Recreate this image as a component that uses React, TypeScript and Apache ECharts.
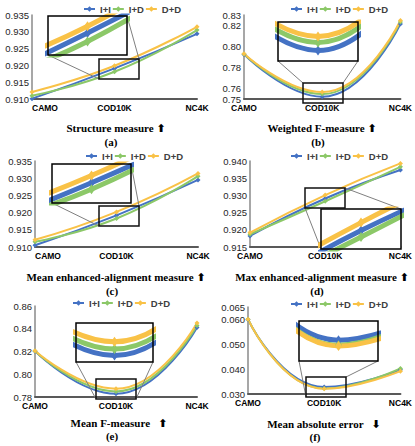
import React, { useEffect, useRef } from 'react';
import * as echarts from 'echarts';

const categories = ['CAMO', 'COD10K', 'NC4K'];
const seriesNames = ['I+I', 'I+D', 'D+D'];

// (a) Structure measure
const smII = [0.9101, 0.9191, 0.9294];
const smID = [0.911, 0.9181, 0.9305];
const smDD = [0.9121, 0.9199, 0.9315];
// (b) Weighted F-measure
const wfII = [0.7925, 0.7522, 0.8215];
const wfID = [0.7928, 0.7547, 0.8234];
const wfDD = [0.7932, 0.7566, 0.8247];
// (c) Mean enhanced-alignment measure
const meII = [0.9105, 0.9192, 0.9295];
const meID = [0.9115, 0.9183, 0.9306];
const meDD = [0.9121, 0.9202, 0.9314];
// (d) Max enhanced-alignment measure
const xeII = [0.9182, 0.9291, 0.9374];
const xeID = [0.9187, 0.9283, 0.9383];
const xeDD = [0.9192, 0.9301, 0.9393];
// (e) Mean F-measure
const mfII = [0.8203, 0.7828, 0.8411];
const mfID = [0.8205, 0.7849, 0.8428];
const mfDD = [0.8207, 0.7873, 0.8451];
// (f) Mean absolute error
const maeII = [0.06, 0.0328, 0.0398];
const maeID = [0.0601, 0.0322, 0.0403];
const maeDD = [0.0601, 0.0321, 0.0392];

// y tick labels shown
const wfTicks = ['0.75', '0.76', '0.78', '0.80', '0.82', '0.83'];
const maeTicks = ['0.030', '0.040', '0.050', '0.060', '0.065'];

const titles = [
  'Structure measure \u2B06',
  'Weighted F-measure \u2B06',
  'Mean enhanced-alignment measure \u2B06',
  'Max enhanced-alignment measure \u2B06',
  'Mean F-measure   \u2B06',
  'Mean absolute error   \u2B07',
];
const subLabels = ['(a)', '(b)', '(c)', '(d)', '(e)', '(f)'];

const colors = ['#4472C4', '#8CC868', '#F9C247'];
const sans = "'Liberation Sans', Arial, sans-serif";
const narrow = "'Liberation Sans Narrow', 'Liberation Sans', Arial, sans-serif";
const serif = "'Liberation Serif', 'Times New Roman', 'DejaVu Sans', serif";

const panels = [
  {
    values: [smII, smID, smDD], min: 0.91, max: 0.935, interval: 0.005, dec: 3, ticks: null, alignMin: true,
    grid: [32, 15, 165, 84], inset: [48, 16, 79, 39], insetX: [0.76, 1.24], insetY: [0.9165, 0.9211],
    rect: [99, 59, 40, 20], conn: [[48, 55, 99, 79], [127, 16, 139, 59]],
    legend: [83, 4], title: [116, 128], sub: [111, 142],
  },
  {
    values: [wfII, wfID, wfDD], min: 0.75, max: 0.83, interval: 0.01, dec: 2, ticks: wfTicks, alignMin: false,
    grid: [244, 15, 158, 84], inset: [278, 22, 80, 39], insetX: [0.743, 1.257], insetY: [0.7489, 0.7611],
    rect: [303, 83, 40, 20], conn: [[278, 61, 303, 83], [358, 61, 343, 83]],
    legend: [290, 4], title: [322, 128], sub: [318, 142],
  },
  {
    values: [meII, meID, meDD], min: 0.91, max: 0.935, interval: 0.005, dec: 3, ticks: null, alignMin: true,
    grid: [35, 161, 163, 86], inset: [52, 164, 79, 39], insetX: [0.755, 1.245], insetY: [0.9164, 0.9218],
    rect: [99, 206, 40, 20], conn: [[52, 203, 99, 226], [131, 164, 139, 206]],
    legend: [85, 151], title: [116, 277], sub: [112, 291],
  },
  {
    values: [xeII, xeID, xeDD], min: 0.915, max: 0.94, interval: 0.005, dec: 3, ticks: null, alignMin: false,
    grid: [250, 161, 153, 86], inset: [321, 209, 80, 40], insetX: [0.74, 1.26], insetY: [0.9268, 0.9318],
    rect: [305, 188, 40, 20], conn: [[345, 188, 401, 209], [305, 208, 321, 249]],
    legend: [290, 151], title: [322, 277], sub: [317, 291],
  },
  {
    values: [mfII, mfID, mfDD], min: 0.78, max: 0.86, interval: 0.02, dec: 2, ticks: null, alignMin: false,
    grid: [35, 306, 162, 91], inset: [76, 323, 77, 39], insetX: [0.753, 1.247], insetY: [0.7807, 0.7934],
    rect: [96, 379, 40, 20], conn: [[76, 362, 96, 399], [153, 362, 136, 399]],
    legend: [72, 298], title: [119, 423], sub: [112, 436],
  },
  {
    values: [maeII, maeID, maeDD], min: 0.03, max: 0.065, interval: 0.005, dec: 3, ticks: maeTicks, alignMin: false,
    grid: [248, 307, 155, 87], inset: [299, 321, 79, 40], insetX: [0.742, 1.258], insetY: [0.0303, 0.0351],
    rect: [306, 377, 40, 20], conn: [[299, 361, 306, 397], [378, 361, 346, 377]],
    legend: [290, 299], title: [324, 424], sub: [315, 437],
  },
];

function buildOption() {
  const grid: any[] = [];
  const xAxis: any[] = [];
  const yAxis: any[] = [];
  const series: any[] = [];
  const legend: any[] = [];
  const graphic: any[] = [];

  panels.forEach((p, i) => {
    const gi = i * 2;
    grid.push({ left: p.grid[0], top: p.grid[1], width: p.grid[2], height: p.grid[3] });
    grid.push({ left: p.inset[0], top: p.inset[1], width: p.inset[2], height: p.inset[3] });

    xAxis.push({
      type: 'category', gridIndex: gi, data: categories, boundaryGap: false,
      axisTick: { show: false },
      axisLine: { lineStyle: { color: '#595959', width: 2 } },
      axisLabel: {
        fontFamily: sans, fontWeight: 'bold', fontSize: 8.5, color: '#000', margin: 4,
        alignMinLabel: p.alignMin ? 'left' : 'center', interval: 0,
      },
    });
    xAxis.push({ type: 'value', gridIndex: gi + 1, min: p.insetX[0], max: p.insetX[1], show: false });

    const dec = p.dec;
    const ticks = p.ticks;
    yAxis.push({
      type: 'value', gridIndex: gi, min: p.min, max: p.max, interval: p.interval,
      splitLine: { show: false },
      axisTick: { show: false },
      axisLine: { show: true, lineStyle: { color: '#8a8a8a', width: 1.5 } },
      axisLabel: {
        fontFamily: narrow, fontSize: 9.5, color: '#262626', margin: 3,
        formatter: (v: number) => {
          const s = v.toFixed(dec);
          if (ticks && ticks.indexOf(s) < 0) return '';
          return s;
        },
      },
    });
    yAxis.push({ type: 'value', gridIndex: gi + 1, min: p.insetY[0], max: p.insetY[1], show: false });

    p.values.forEach((vals, k) => {
      series.push({
        type: 'line', name: seriesNames[k], xAxisIndex: gi, yAxisIndex: gi, data: vals,
        smooth: true, symbol: 'diamond', symbolSize: 5,
        lineStyle: { width: 2, color: colors[k] }, itemStyle: { color: colors[k] }, z: 2,
      });
    });
    p.values.forEach((vals, k) => {
      series.push({
        type: 'line', name: seriesNames[k], xAxisIndex: gi + 1, yAxisIndex: gi + 1,
        data: vals.map((v, j) => [j, v]), clip: true,
        smooth: true, symbol: 'diamond', symbolSize: [7, 10],
        lineStyle: { width: 5, color: colors[k] }, itemStyle: { color: colors[k] }, z: 11,
      });
    });

    legend.push({
      left: p.legend[0], top: p.legend[1], data: seriesNames, padding: 0,
      itemWidth: 11, itemHeight: 7, itemGap: 1,
      textStyle: { fontFamily: sans, fontWeight: 'bold', fontSize: 9.5, color: '#404040' },
    });

    // inset background + frame
    graphic.push({
      type: 'rect', z: 10, silent: true,
      shape: { x: p.inset[0], y: p.inset[1], width: p.inset[2], height: p.inset[3] },
      style: { fill: '#fff', stroke: 'none' },
    });
    graphic.push({
      type: 'rect', z: 13, silent: true,
      shape: { x: p.inset[0], y: p.inset[1], width: p.inset[2], height: p.inset[3] },
      style: { fill: 'none', stroke: '#000', lineWidth: 1.5 },
    });
    graphic.push({
      type: 'rect', z: 13, silent: true,
      shape: { x: p.rect[0], y: p.rect[1], width: p.rect[2], height: p.rect[3] },
      style: { fill: 'none', stroke: '#111', lineWidth: 1.5 },
    });
    p.conn.forEach((c) => {
      graphic.push({
        type: 'line', z: 9, silent: true,
        shape: { x1: c[0], y1: c[1], x2: c[2], y2: c[3] },
        style: { stroke: '#7f7f7f', lineWidth: 1 },
      });
    });
    graphic.push({
      type: 'text', z: 14, silent: true, x: p.title[0], y: p.title[1],
      style: {
        text: titles[i], fill: '#000', font: `bold 11px ${serif}`,
        textAlign: 'center', textVerticalAlign: 'middle',
      },
    });
    graphic.push({
      type: 'text', z: 14, silent: true, x: p.sub[0], y: p.sub[1],
      style: {
        text: subLabels[i], fill: '#000', font: `bold 11px ${serif}`,
        textAlign: 'center', textVerticalAlign: 'middle',
      },
    });
  });

  return {
    animation: false,
    backgroundColor: '#fff',
    grid, xAxis, yAxis, series, legend, graphic,
  };
}

export default function App() {
  const ref = useRef<HTMLDivElement>(null);
  useEffect(() => {
    if (!ref.current) return;
    const chart = echarts.init(ref.current, undefined, { renderer: 'svg' });
    chart.setOption(buildOption() as any);
    return () => chart.dispose();
  }, []);
  return (
    <div
      ref={ref}
      style={{ position: 'fixed', left: 0, top: 0, width: 415, height: 446, background: '#fff' }}
    />
  );
}
